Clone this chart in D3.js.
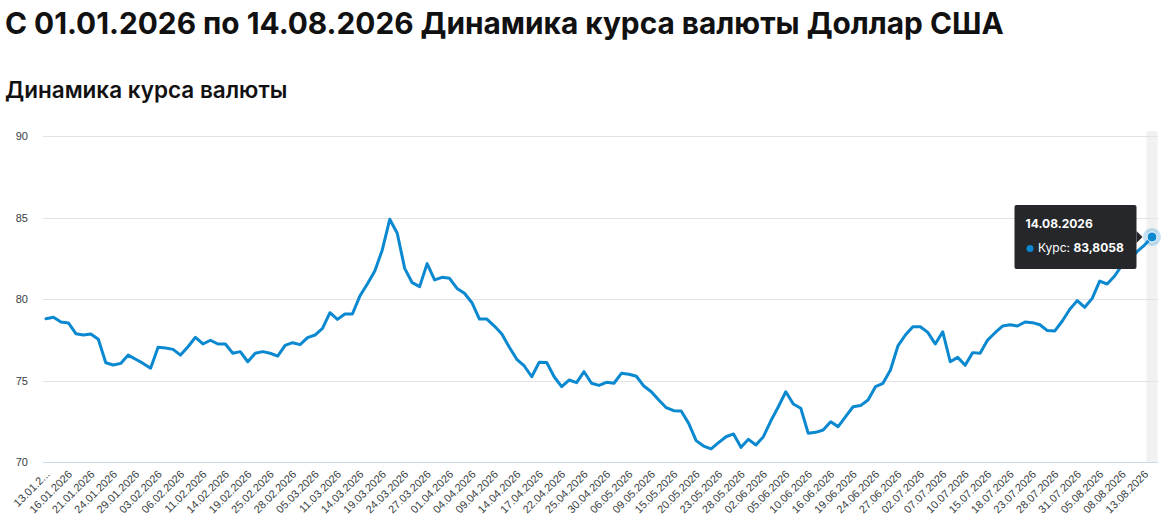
<!DOCTYPE html>
<html>
<head>
<meta charset="utf-8">
<script src="https://cdn.jsdelivr.net/npm/d3@7/dist/d3.min.js"></script>
<style>
  html, body { margin: 0; padding: 0; background: #fff; }
  svg { display: block; }
</style>
</head>
<body>
<svg id="chart" width="1170" height="532"></svg>
<script>
const titleText = "С 01.01.2026 по 14.08.2026 Динамика курса валюты Доллар США";
const subtitleText = "Динамика курса валюты";
const seriesName = "Курс";

const dates = [
  "13.01.2026","14.01.2026","15.01.2026","16.01.2026","17.01.2026","20.01.2026","21.01.2026","22.01.2026","23.01.2026","24.01.2026",
  "27.01.2026","28.01.2026","29.01.2026","30.01.2026","31.01.2026","03.02.2026","04.02.2026","05.02.2026","06.02.2026","07.02.2026",
  "10.02.2026","11.02.2026","12.02.2026","13.02.2026","14.02.2026","17.02.2026","18.02.2026","19.02.2026","20.02.2026","21.02.2026",
  "25.02.2026","26.02.2026","27.02.2026","28.02.2026","03.03.2026","04.03.2026","05.03.2026","06.03.2026","07.03.2026","11.03.2026",
  "12.03.2026","13.03.2026","14.03.2026","17.03.2026","18.03.2026","19.03.2026","20.03.2026","21.03.2026","24.03.2026","25.03.2026",
  "26.03.2026","27.03.2026","28.03.2026","31.03.2026","01.04.2026","02.04.2026","03.04.2026","04.04.2026","07.04.2026","08.04.2026",
  "09.04.2026","10.04.2026","11.04.2026","14.04.2026","15.04.2026","16.04.2026","17.04.2026","18.04.2026","21.04.2026","22.04.2026",
  "23.04.2026","24.04.2026","25.04.2026","28.04.2026","29.04.2026","30.04.2026","01.05.2026","05.05.2026","06.05.2026","07.05.2026",
  "08.05.2026","09.05.2026","13.05.2026","14.05.2026","15.05.2026","16.05.2026","19.05.2026","20.05.2026","21.05.2026","22.05.2026",
  "23.05.2026","26.05.2026","27.05.2026","28.05.2026","29.05.2026","30.05.2026","02.06.2026","03.06.2026","04.06.2026","05.06.2026",
  "06.06.2026","09.06.2026","10.06.2026","11.06.2026","12.06.2026","16.06.2026","17.06.2026","18.06.2026","19.06.2026","20.06.2026",
  "23.06.2026","24.06.2026","25.06.2026","26.06.2026","27.06.2026","30.06.2026","01.07.2026","02.07.2026","03.07.2026","04.07.2026",
  "07.07.2026","08.07.2026","09.07.2026","10.07.2026","11.07.2026","14.07.2026","15.07.2026","16.07.2026","17.07.2026","18.07.2026",
  "21.07.2026","22.07.2026","23.07.2026","24.07.2026","25.07.2026","28.07.2026","29.07.2026","30.07.2026","31.07.2026","01.08.2026",
  "04.08.2026","05.08.2026","06.08.2026","07.08.2026","08.08.2026","11.08.2026","12.08.2026","13.08.2026","14.08.2026"
];

const rates = [
  78.79,78.88,78.59,78.53,77.87,77.79,77.85,77.53,76.09,75.95,
  76.05,76.56,76.30,76.05,75.75,77.04,76.99,76.91,76.56,77.07,
  77.65,77.24,77.47,77.24,77.24,76.67,76.77,76.15,76.67,76.77,
  76.67,76.50,77.16,77.32,77.20,77.63,77.79,78.20,79.16,78.75,
  79.08,79.08,80.18,80.92,81.72,83.01,84.89,84.03,81.88,81.00,
  80.76,82.17,81.17,81.33,81.27,80.65,80.35,79.77,78.77,78.77,
  78.34,77.85,77.04,76.30,75.89,75.23,76.12,76.10,75.23,74.62,
  75.03,74.87,75.54,74.83,74.70,74.89,74.83,75.44,75.38,75.26,
  74.66,74.31,73.80,73.33,73.15,73.13,72.37,71.31,70.98,70.80,
  71.19,71.55,71.72,70.90,71.39,71.04,71.55,72.53,73.39,74.31,
  73.56,73.30,71.76,71.82,71.96,72.47,72.17,72.78,73.39,73.46,
  73.80,74.62,74.83,75.64,77.12,77.79,78.30,78.30,77.95,77.24,
  77.99,76.15,76.42,75.93,76.71,76.67,77.48,77.93,78.34,78.42,
  78.34,78.59,78.55,78.42,78.06,78.04,78.65,79.37,79.90,79.49,
  80.04,81.10,80.92,81.41,82.09,82.39,82.90,83.31,83.8058
];

const yTicks = [70, 75, 80, 85, 90];
const xTickLabels = [
  "13.01.2...","16.01.2026","21.01.2026","24.01.2026","29.01.2026","03.02.2026","06.02.2026","11.02.2026","14.02.2026","19.02.2026",
  "25.02.2026","28.02.2026","05.03.2026","11.03.2026","14.03.2026","19.03.2026","24.03.2026","27.03.2026","01.04.2026","04.04.2026",
  "09.04.2026","14.04.2026","17.04.2026","22.04.2026","25.04.2026","30.04.2026","06.05.2026","09.05.2026","15.05.2026","20.05.2026",
  "23.05.2026","28.05.2026","02.06.2026","05.06.2026","10.06.2026","16.06.2026","19.06.2026","24.06.2026","27.06.2026","02.07.2026",
  "07.07.2026","10.07.2026","15.07.2026","18.07.2026","23.07.2026","28.07.2026","31.07.2026","05.08.2026","08.08.2026","13.08.2026"
];
const tickEvery = 3;
const highlightIndex = dates.length - 1;

const data = dates.map((d, i) => ({ date: d, value: rates[i] }));

const svg = d3.select("#chart");
const FONT = "Inter, 'Liberation Sans', Arial, sans-serif";
const AXFONT = "'Liberation Sans', Arial, sans-serif";

svg.append("text").attr("x", 5).attr("y", 34)
  .attr("font-family", FONT).attr("font-weight", 700).attr("font-size", 29.8)
  .attr("fill", "#111").text(titleText);
svg.append("text").attr("x", 5).attr("y", 97.5)
  .attr("font-family", FONT).attr("font-weight", 600).attr("font-size", 22.5)
  .attr("fill", "#111").text(subtitleText);

const plotLeft = 43, plotRight = 1158;
const x = d3.scalePoint().domain(dates).range([46, 1152]).padding(0);
const y = d3.scaleLinear().domain([70, 90]).range([462, 136]);

// crosshair band
const hx = x(dates[highlightIndex]);
svg.append("rect").attr("x", hx - 5.5).attr("y", 131).attr("width", 11).attr("height", 331)
  .attr("fill", "#f1f1f1");

// grid
const grid = svg.append("g");
grid.selectAll("line").data(yTicks).enter().append("line")
  .attr("x1", plotLeft).attr("x2", plotRight)
  .attr("y1", d => Math.round(y(d)) + 0.5).attr("y2", d => Math.round(y(d)) + 0.5)
  .attr("stroke", d => d === 70 ? "#c9d8ec" : "#e3e3e3").attr("stroke-width", 1);

// y axis
const yAxis = d3.axisLeft(y).tickValues(yTicks).tickSize(0).tickPadding(0).tickFormat(d3.format("d"));
const yg = svg.append("g").attr("transform", "translate(28,0)").call(yAxis);
yg.select(".domain").remove();
yg.selectAll("text").attr("font-family", AXFONT).attr("font-size", 11).attr("fill", "#373d3f");

// x axis
const tickVals = dates.filter((d, i) => i % tickEvery === 0);
const xAxis = d3.axisBottom(x).tickValues(tickVals).tickSize(0)
  .tickFormat((d, i) => xTickLabels[i]);
const xg = svg.append("g").attr("transform", "translate(0,462)").call(xAxis);
xg.select(".domain").remove();
xg.selectAll("text")
  .attr("font-family", AXFONT).attr("font-size", 11).attr("fill", "#373d3f")
  .attr("text-anchor", "end").attr("dy", null).attr("y", 0).attr("x", 0)
  .attr("transform", "translate(4,13) rotate(-45)");

// line
const line = d3.line().x(d => x(d.date)).y(d => y(d.value)).curve(d3.curveLinear);
svg.append("path").datum(data).attr("d", line)
  .attr("fill", "none").attr("stroke", "#0a88d0").attr("stroke-width", 3)
  .attr("stroke-linejoin", "round").attr("stroke-linecap", "round");

// marker
const hp = data[highlightIndex];
svg.append("circle").attr("cx", x(hp.date)).attr("cy", y(hp.value)).attr("r", 9)
  .attr("fill", "#0a88d0").attr("fill-opacity", 0.25);
svg.append("circle").attr("cx", x(hp.date)).attr("cy", y(hp.value)).attr("r", 5)
  .attr("fill", "#0a88d0").attr("stroke", "#fff").attr("stroke-width", 1);

// tooltip
const ty = y(hp.value);
const tt = svg.append("g");
const tw = 122, th = 64;
const tRight = x(hp.date) - 15.5;
tt.append("rect").attr("x", tRight - tw).attr("y", ty - 32).attr("width", tw).attr("height", th)
  .attr("rx", 2).attr("fill", "#25272b");
tt.append("path").attr("d", `M${tRight},${ty - 6} L${tRight + 6},${ty} L${tRight},${ty + 6} Z`).attr("fill", "#25272b");
tt.append("text").attr("x", tRight - tw + 11).attr("y", ty - 9)
  .attr("font-family", FONT).attr("font-weight", 700).attr("font-size", 12).attr("fill", "#fff")
  .text(hp.date);
tt.append("circle").attr("cx", tRight - tw + 15.5).attr("cy", ty + 11.5).attr("r", 3.5).attr("fill", "#0a88d0");
const row = tt.append("text").attr("x", tRight - tw + 23.5).attr("y", ty + 15.5)
  .attr("font-family", FONT).attr("font-size", 12).attr("fill", "#fff");
row.append("tspan").text(seriesName + ": ");
row.append("tspan").attr("font-weight", 700).text(d3.format(".4f")(hp.value).replace(".", ","));
</script>
</body>
</html>
